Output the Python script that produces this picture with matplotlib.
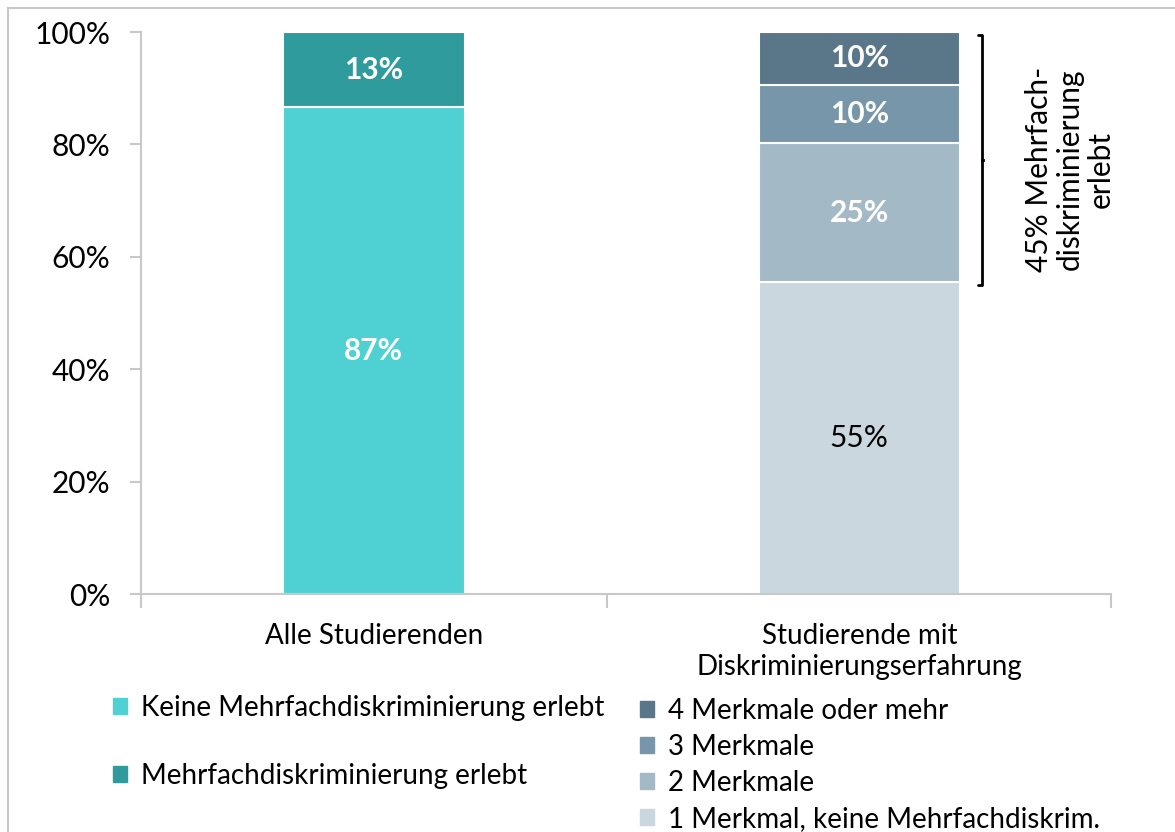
import matplotlib.pyplot as plt
from matplotlib.patches import Patch
from matplotlib.lines import Line2D

plt.rcParams['font.family'] = ['Lato', 'DejaVu Sans']

# data
categories = ['Alle Studierenden', 'Studierende mit\nDiskriminierungserfahrung']

all_labels = ['Keine Mehrfachdiskriminierung erlebt', 'Mehrfachdiskriminierung erlebt']
all_values = [86.6, 13.4]
all_texts = ['87%', '13%']

exp_labels = ['1 Merkmal, keine Mehrfachdiskrim.', '2 Merkmale', '3 Merkmale',
              '4 Merkmale oder mehr']
exp_values = [55.5, 24.7, 10.4, 9.4]
exp_texts = ['55%', '25%', '10%', '10%']

bracket_text = '45% Mehrfach-\ndiskriminierung\nerlebt'

all_colors = ['#4FD0D2', '#2F9B9D']
exp_colors = ['#CAD7DF', '#A4B9C6', '#7796AA', '#5A7689']
exp_text_colors = ['black', 'white', 'white', 'white']

fig = plt.figure(figsize=(11.75, 8.32), dpi=100)
ax = fig.add_axes([141 / 1175, 1 - 594 / 832, 970 / 1175, 562 / 832])

# bar 1
bottom = 0
for v, c, t in zip(all_values, all_colors, all_texts):
    ax.bar(-0.02, v, width=0.376, bottom=bottom, color=c, edgecolor='white', linewidth=1.5)
    ax.text(-0.02, bottom + v / 2, t, ha='center', va='center', color='white',
            fontsize=21.5, fontweight='bold')
    bottom += v

# bar 2
bottom = 0
for v, c, t, tc in zip(exp_values, exp_colors, exp_texts, exp_text_colors):
    ax.bar(0.981, v, width=0.414, bottom=bottom, color=c, edgecolor='white', linewidth=1.5)
    ax.text(0.981, bottom + v / 2, t, ha='center', va='center', color=tc,
            fontsize=21.5, fontweight='bold' if tc == 'white' else 'normal')
    bottom += v

ax.set_xlim(-0.5, 1.5)
ax.set_ylim(0, 100)
ax.set_yticks(range(0, 101, 20))
ax.set_yticklabels([f'{t}%' for t in range(0, 101, 20)], fontsize=21.5)
ax.set_xticks([-0.02, 0.981])
ax.set_xticklabels(categories, fontsize=20, linespacing=1.25)
ax.set_xticks([-0.5, 0.461, 1.5], minor=True)
ax.tick_params(axis='x', which='major', length=0, pad=21)
ax.tick_params(axis='x', which='minor', length=10, color='#C8C8C8', width=1.5)
ax.tick_params(axis='y', length=8, color='#C8C8C8', width=1.5, pad=14)
for s in ['top', 'right']:
    ax.spines[s].set_visible(False)
for s in ['left', 'bottom']:
    ax.spines[s].set_color('#C8C8C8')
    ax.spines[s].set_linewidth(1.5)

# bracket
bx = 1.233
yb, yt = exp_values[0] - 0.5, 99.5
ax.plot([bx - 0.008, bx, bx, bx - 0.008], [yb, yb, yt, yt], color='black', lw=2,
        clip_on=False, solid_capstyle='round')
ax.plot([bx, bx + 0.004], [(yb + yt) / 2] * 2, color='black', lw=2, clip_on=False)
ax.text(1.415, 75.6, bracket_text, rotation=90, ha='center', va='center',
        fontsize=21.5, multialignment='center', linespacing=1.12)

# legends
leg1 = fig.legend([Patch(color=c) for c in all_colors], all_labels,
                  loc='upper left', bbox_to_anchor=(88 / 1175, 1 - 670 / 832),
                  frameon=False, fontsize=20, handlelength=0.5, handleheight=0.5,
                  handletextpad=0.5, labelspacing=1.5)
leg2 = fig.legend([Patch(color=c) for c in exp_colors[::-1]], exp_labels[::-1],
                  loc='upper left', bbox_to_anchor=(615 / 1175, 1 - 673 / 832),
                  frameon=False, fontsize=20, handlelength=0.5, handleheight=0.5,
                  handletextpad=0.5, labelspacing=0.36)

# outer frame lines
fig.add_artist(Line2D([8 / 1175, 1], [1 - 8 / 832] * 2, color='#C8C8C8', lw=1.5))
fig.add_artist(Line2D([8 / 1175] * 2, [0, 1 - 8 / 832], color='#C8C8C8', lw=1.5))

fig.savefig('out.png', dpi=100)
